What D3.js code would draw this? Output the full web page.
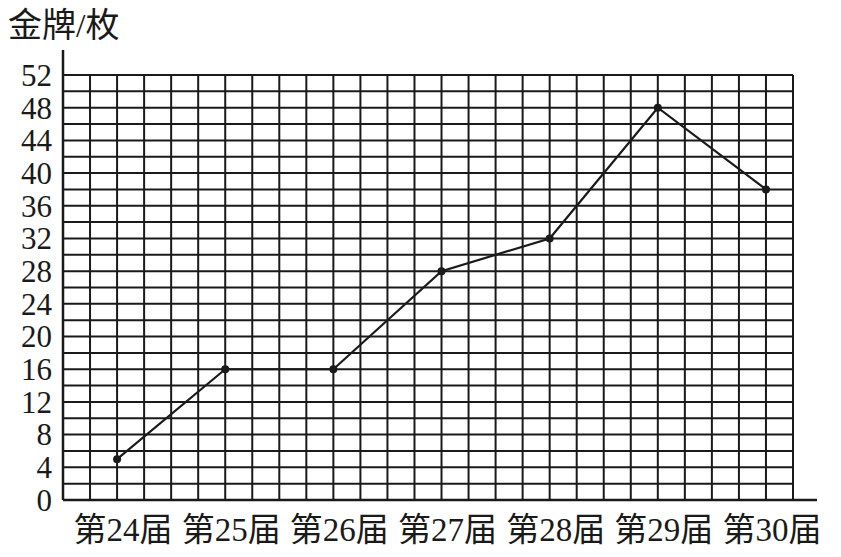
<!DOCTYPE html>
<html lang="zh">
<head>
<meta charset="utf-8">
<title>金牌</title>
<script src="https://cdn.jsdelivr.net/npm/d3@7"></script>
<style>
  body { margin: 0; background: #fff; }
  svg text { fill: #1a1a1a; }
</style>
</head>
<body>
<div id="chart"></div>
<script>
// data
var categories = ["第24届", "第25届", "第26届", "第27届", "第28届", "第29届", "第30届"];
var golds = [5, 16, 16, 28, 32, 48, 38];
var yTicks = [0, 4, 8, 12, 16, 20, 24, 28, 32, 36, 40, 44, 48, 52];

var W = 841, H = 557;
// plot box (note: "top" is reserved on window, so keep it in an object)
var box = {left: 63, right: 793, top: 75, bottom: 500};
var ink = "#1a1a1a";

var svg = d3.select("#chart").append("svg")
    .attr("width", W)
    .attr("height", H);

// grid cells: 27 columns, one row every 2 medals
var gx = d3.scaleLinear().domain([0, 27]).range([box.left, box.right]);
var y = d3.scaleLinear().domain([0, 52]).range([box.bottom, box.top]);
var x = d3.scalePoint().domain(categories).range([gx(2), gx(26)]);

var grid = svg.append("g")
    .attr("stroke", ink)
    .attr("stroke-width", 2);

grid.selectAll("line.h")
    .data(d3.range(0, 53, 2))
    .enter().append("line")
    .attr("class", "h")
    .attr("x1", box.left).attr("x2", box.right)
    .attr("y1", function(d) { return y(d); })
    .attr("y2", function(d) { return y(d); });

grid.selectAll("line.v")
    .data(d3.range(1, 28))
    .enter().append("line")
    .attr("class", "v")
    .attr("x1", function(d) { return gx(d); })
    .attr("x2", function(d) { return gx(d); })
    .attr("y1", box.top).attr("y2", box.bottom);

// axes
svg.append("line")
    .attr("x1", box.left).attr("x2", 817)
    .attr("y1", box.bottom).attr("y2", box.bottom)
    .attr("stroke", ink).attr("stroke-width", 2.5);
svg.append("line")
    .attr("x1", box.left).attr("x2", box.left)
    .attr("y1", box.bottom).attr("y2", 50)
    .attr("stroke", ink).attr("stroke-width", 2.5);

// y tick labels
svg.selectAll("text.ytick")
    .data(yTicks)
    .enter().append("text")
    .attr("class", "ytick")
    .attr("x", 52)
    .attr("y", function(d) { return y(d); })
    .attr("dy", "0.35em")
    .attr("text-anchor", "end")
    .style("font-family", "'Liberation Serif', serif")
    .style("font-size", "31px")
    .text(function(d) { return d; });

// x category labels
svg.selectAll("text.xcat")
    .data(categories)
    .enter().append("text")
    .attr("class", "xcat")
    .attr("x", function(d) { return x(d) + 6; })
    .attr("y", 541)
    .attr("text-anchor", "middle")
    .style("font-family", "'Liberation Serif', 'Noto Sans CJK SC', serif")
    .style("font-size", "33px")
    .text(function(d) { return d; });

// title
svg.append("text")
    .attr("x", 8)
    .attr("y", 37)
    .style("font-family", "'Liberation Serif', 'Noto Sans CJK SC', serif")
    .style("font-size", "34px")
    .text("金牌/枚");

// line + points
var line = d3.line()
    .x(function(d, i) { return x(categories[i]); })
    .y(function(d) { return y(d); });

svg.append("path")
    .datum(golds)
    .attr("d", line)
    .attr("fill", "none")
    .attr("stroke", ink)
    .attr("stroke-width", 2.2);

svg.selectAll("circle")
    .data(golds)
    .enter().append("circle")
    .attr("cx", function(d, i) { return x(categories[i]); })
    .attr("cy", function(d) { return y(d); })
    .attr("r", 4)
    .attr("fill", ink);
</script>
</body>
</html>
